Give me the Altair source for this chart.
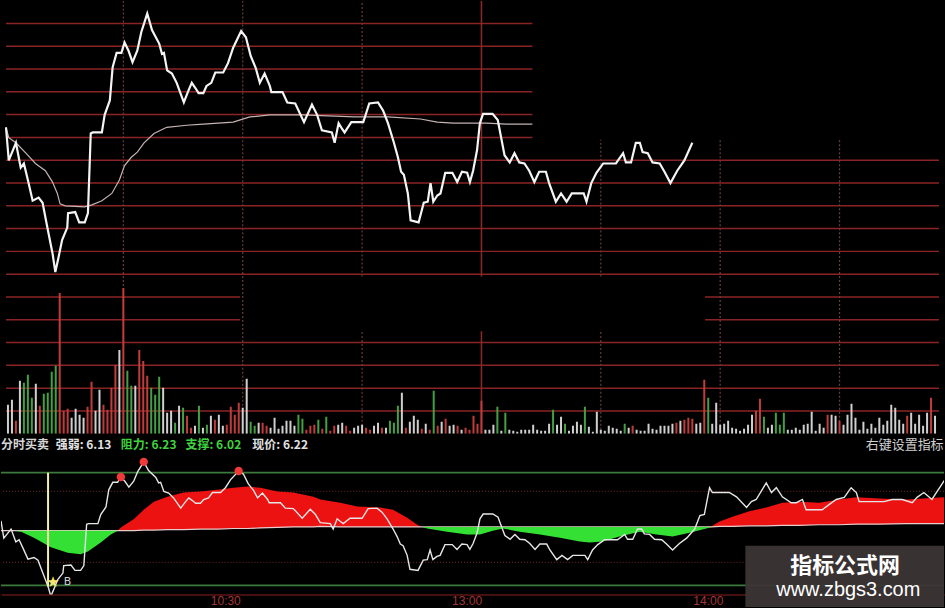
import altair as alt
import pandas as pd

# Intraday minute chart: price + average price, volume, and the
# "分时买卖" indicator underneath. Minute 1 = 09:31, minute 120 = 13:00.

X_DOMAIN = [0.5, 235.0]
TICK_MINUTES = [60, 120, 180]
TICK_LABELS = ["10:30", "13:00", "14:00"]

# ---- volume per minute (hundred lots) and tick direction (w flat, r up, g down)
volume = [
    29, 34, 13, 53, 51, 59, 36, 50, 28, 40, 41, 62, 68, 141, 23, 25, 16, 25, 19, 16,
    27, 52, 23, 44, 29, 24, 46, 69, 84, 146, 63, 48, 48, 84, 73, 58, 46, 39, 57, 46,
    21, 23, 11, 28, 26, 18, 6, 8, 28, 6, 9, 18, 14, 19, 8, 9, 27, 19, 31, 26,
    55, 12, 8, 11, 11, 8, 6, 16, 5, 8, 13, 13, 8, 19, 15, 4, 8, 9, 14,
    5, 17, 3, 8, 9, 11, 8, 3, 6, 8, 9, 6, 4, 8, 11, 6, 6, 13, 11, 28,
    41, 6, 12, 18, 14, 5, 10, 4, 43, 8, 12, 15, 8, 9, 8, 4, 6, 4, 18, 10,
    33, 4, 4, 9, 27, 3, 21, 4, 3, 2, 4, 4, 4, 9, 4, 3, 3, 10, 24, 9,
    17, 10, 3, 8, 12, 9, 27, 7, 2, 22, 4, 3, 8, 6, 5, 3, 10, 6, 8, 4,
    3, 3, 10, 5, 4, 8, 8, 8, 10, 11, 13, 14, 16, 15, 10, 11, 54, 36, 10, 31,
    9, 10, 13, 6, 5, 3, 5, 9, 19, 23, 35, 17, 6, 9, 21, 9, 21, 4, 4, 6,
    4, 9, 10, 22, 3, 10, 6, 19, 19, 18, 13, 9, 19, 30, 16, 4, 12, 5, 10, 6,
    16, 9, 13, 29, 26, 14, 10, 18, 21, 10, 19, 8, 21, 36, 18,
]
vol_dir = list(
    "wwrwgggwrg" "gggrrrwwww" "rrwwrrrrwr" "ggwrrrgggw" "wwgwgrrwgw" "gwrwwrrrrw"
    "wggwrrwwww" "wwwggrrrg"
    "rgrrwwrrww" "wrrwwrwggg" "wrwwwrwrgr" "wrwwrwrrrr"
    "rwwwgwgwww" "wwwwwwwwgw" "wgwwwwgwww" "wwwwwwgwrw" "wwwwwwwwwr" "wrrrwwrgww"
    "wwwwwwwwwr" "rgwwgggwww" "wwwwwwwrww" "rwwwwwwwww" "wwwwwwwrww" "wwwrw"
)

# ---- last price (minute, price)
price_minute = [
    0.5, 1.2, 3.0, 4.2, 5.0, 6.0, 7.2, 8.7, 9.7, 10.9,
    12.2, 12.9, 13.7, 14.6, 15.9, 16.1, 17.9, 18.9, 20.3, 21.1,
    21.8, 22.3, 24.6, 25.3, 26.6, 27.3, 28.3, 29.5, 30.3, 31.3,
    32.3, 33.5, 34.5, 36.0, 37.2, 39.0, 39.7, 40.2, 41.0, 42.2,
    43.4, 45.2, 46.4, 47.2, 48.1, 48.9, 50.1, 50.9, 52.1, 53.1,
    55.1, 56.3, 57.6, 59.6, 60.8, 62.0, 63.3, 64.3, 65.5, 66.8,
    67.2, 70.0, 71.2, 73.2, 75.4, 77.4, 78.7, 79.9, 82.4, 83.1,
    84.1, 84.9, 85.6, 87.3, 90.3, 91.8, 94.0, 95.3, 96.5, 98.0,
    99.0, 99.8, 100.5, 101.5, 102.2, 104.2, 105.5, 106.5, 107.2, 107.9,
    108.9, 109.7, 110.9, 112.7, 113.9, 115.1, 116.4, 117.1, 117.9, 118.9,
    119.6, 120.4, 122.8, 124.1, 125.1, 125.8, 127.1, 128.3, 129.5, 130.8,
    132.0, 133.3, 134.5, 136.2, 137.0, 138.7, 140.0, 141.4, 142.7, 145.7,
    146.4, 147.6, 148.9, 150.6, 153.8, 155.6, 156.3, 157.6, 158.8, 159.8,
    160.5, 161.8, 163.0, 164.8, 166.0, 167.5, 169.2, 171.0, 173.0,
    174.3, 175.4, 176.7, 177.4, 179.2, 181.6, 183.4, 185.9, 187.1, 188.3,
    190.8, 192.1, 193.3, 194.8, 197.0, 198.3, 199.8, 200.7, 204.7, 206.5,
    208.2, 210.2, 211.9, 213.2, 213.9, 220.1, 222.1, 224.6, 227.1, 228.3,
    230.0, 232.0, 233.3, 235.5,
]
price_value = [
    6.140, 6.108, 6.125, 6.101, 6.105, 6.089, 6.069, 6.072, 6.067, 6.043,
    6.018, 6.000, 6.014, 6.031, 6.043, 6.057, 6.058, 6.048, 6.048, 6.057,
    6.134, 6.135, 6.135, 6.152, 6.166, 6.198, 6.212, 6.212, 6.222, 6.214,
    6.203, 6.214, 6.232, 6.250, 6.234, 6.221, 6.211, 6.212, 6.195, 6.192,
    6.183, 6.164, 6.176, 6.183, 6.178, 6.173, 6.173, 6.180, 6.183, 6.193,
    6.193, 6.202, 6.217, 6.233, 6.227, 6.209, 6.197, 6.183, 6.192, 6.180,
    6.174, 6.174, 6.164, 6.163, 6.145, 6.162, 6.152, 6.137, 6.135, 6.125,
    6.144, 6.139, 6.135, 6.145, 6.145, 6.163, 6.164, 6.156, 6.144, 6.125,
    6.111, 6.097, 6.094, 6.076, 6.050, 6.048, 6.067, 6.068, 6.086, 6.068,
    6.074, 6.076, 6.096, 6.096, 6.087, 6.097, 6.096, 6.087, 6.098, 6.118,
    6.144, 6.153, 6.153, 6.147, 6.127, 6.113, 6.106, 6.115, 6.106, 6.105,
    6.098, 6.087, 6.097, 6.097, 6.086, 6.068, 6.076, 6.068, 6.076, 6.076,
    6.068, 6.086, 6.096, 6.105, 6.105, 6.115, 6.106, 6.106, 6.125, 6.125,
    6.116, 6.115, 6.106, 6.105, 6.097, 6.086, 6.098, 6.108, 6.125,
    6.150, 6.152, 6.202, 6.193, 6.193, 6.193, 6.185, 6.165, 6.176, 6.180,
    6.211, 6.193, 6.202, 6.185, 6.174, 6.174, 6.180, 6.161, 6.161, 6.171,
    6.180, 6.184, 6.202, 6.193, 6.176, 6.176, 6.180, 6.180, 6.174, 6.184,
    6.193, 6.180, 6.195, 6.220,
]
TOP_LAST_MINUTE = 173.0

# ---- average price
avg_minute = [
    0.5, 1.2, 3.0, 5.5, 7.9, 10.4, 12.2, 13.4, 14.1, 15.4,
    20.3, 22.1, 24.6, 27.1, 29.0, 30.3, 32.0, 33.5, 35.2, 37.7,
    40.9, 45.9, 50.1, 57.6, 61.8, 66.8, 74.9, 88.1, 96.5, 104.7,
    108.9, 112.9, 121.3, 126.3, 132.8,
]
avg_value = [
    6.140, 6.130, 6.125, 6.115, 6.105, 6.098, 6.087, 6.076, 6.066, 6.064,
    6.063, 6.065, 6.069, 6.076, 6.089, 6.103, 6.111, 6.116, 6.125, 6.134,
    6.140, 6.142, 6.143, 6.145, 6.150, 6.152, 6.152, 6.150, 6.150, 6.148,
    6.145, 6.144, 6.144, 6.143, 6.143,
]

# ---- indicator: smoothed line vs. its base line
ind_minute = [
    0.5, 3.7, 5.5, 8.7, 12.9, 17.1, 20.3, 22.1, 25.3, 27.8,
    29.5, 30.3, 33.5, 36.0, 38.5, 41.9, 45.9, 50.1, 54.3, 58.3,
    61.8, 65.0, 69.2, 73.2, 78.2, 79.9, 84.9, 89.1, 94.8, 98.0,
    101.5, 104.0, 105.2, 106.5, 111.4, 116.4, 119.6, 122.8, 125.3, 129.5,
    134.5, 139.5, 144.4, 146.9, 150.1, 154.3, 159.3, 163.5, 167.5, 171.7,
    175.9, 177.2, 179.2, 182.4, 186.6, 190.8, 194.8, 199.0, 204.0, 208.9,
    213.2, 218.9, 225.6, 235.0,
]
ind_smooth = [
    6.122, 6.122, 6.120, 6.109, 6.091, 6.081, 6.078, 6.083, 6.100, 6.115,
    6.122, 6.128, 6.143, 6.161, 6.176, 6.185, 6.193, 6.195, 6.198, 6.202,
    6.204, 6.202, 6.195, 6.193, 6.185, 6.180, 6.174, 6.167, 6.165, 6.161,
    6.146, 6.133, 6.129, 6.126, 6.120, 6.115, 6.115, 6.122, 6.126, 6.120,
    6.115, 6.109, 6.102, 6.100, 6.102, 6.111, 6.120, 6.115, 6.111, 6.118,
    6.126, 6.130, 6.139, 6.148, 6.158, 6.165, 6.174, 6.176, 6.174, 6.180,
    6.184, 6.182, 6.180, 6.184,
]
ind_base = [
    6.122, 6.122, 6.122, 6.122, 6.122, 6.122, 6.122, 6.122, 6.122, 6.122,
    6.122, 6.122, 6.122, 6.123, 6.123, 6.124, 6.124, 6.125, 6.125, 6.126,
    6.126, 6.127, 6.128, 6.129, 6.129, 6.130, 6.129, 6.129, 6.129, 6.129,
    6.129, 6.129, 6.129, 6.129, 6.129, 6.129, 6.129, 6.129, 6.129, 6.129,
    6.129, 6.129, 6.129, 6.129, 6.129, 6.129, 6.129, 6.129, 6.129, 6.129,
    6.129, 6.129, 6.130, 6.130, 6.131, 6.131, 6.132, 6.132, 6.133, 6.133,
    6.134, 6.134, 6.135, 6.135,
]

STRENGTH = 6.13
RESISTANCE = 6.23
SUPPORT = 6.02
LAST_PRICE = 6.22
GUIDE_LEVELS = [6.195, 6.063]

sell_minute = [30.3, 36.0, 59.6]
sell_price = [6.222, 6.250, 6.233]
BUY_MINUTE = 12.2
BUY_MARK_MINUTE = 13.4
BUY_MARK_PRICE = 6.026

header_minute = [0.5, 14.1, 30.3, 46.4, 63.0]
header_text = ["分时买卖", f"强弱: {STRENGTH:.2f}", f"阻力: {RESISTANCE:.2f}",
               f"支撑: {SUPPORT:.2f}", f"现价: {LAST_PRICE:.2f}"]
header_color = ["#d6d6d6", "#e2e2e2", "#3fd43f", "#3fd43f", "#e2e2e2"]
HEADER_PRICE = 6.282

# ---- background grid (levels count up from the volume baseline)
hgrid_level = [1, 2, 3, 4, 5, 5, 6, 6, 7, 8, 9, 10, 11, 12, 13, 14, 15, 16, 17, 18]
hgrid_from = [0.5, 0.5, 0.5, 0.5, 0.5, 176.2, 0.5, 176.2, 0.5, 0.5, 0.5, 0.5, 0.5, 0.5,
              0.5, 0.5, 0.5, 0.5, 0.5, 0.5]
hgrid_to = [235, 235, 235, 235, 59.3, 235, 59.3, 235, 235, 235, 235, 235, 235, 235,
            132.8, 132.8, 132.8, 132.8, 132.8, 132.8]
vgrid_minute = [30, 60, 90, 90, 150, 150, 180, 210]
vgrid_from = [0, 0, 6.9, 0, 6.9, 0, 0, 0]
vgrid_to = [19, 19, 19, 4.5, 12.9, 4.5, 12.9, 12.9]
vsolid_minute = [120, 120]
vsolid_from = [6.9, 0]
vsolid_to = [19, 4.5]

W = 945
TOP_H = 434
IND_H = 161

xs = alt.Scale(domain=X_DOMAIN, nice=False, zero=False)


def xt(field):
    return alt.X(field, type="quantitative", scale=xs, axis=None)


grid_scale = alt.Scale(domain=[0, 19], nice=False, zero=False)
top_price_scale = alt.Scale(domain=[5.8436, 6.2625], nice=False, zero=False)
vol_scale = alt.Scale(domain=[0, 434], nice=False)

hgrid_df = pd.DataFrame({"level": hgrid_level, "m0": hgrid_from, "m1": hgrid_to})
vgrid_df = pd.DataFrame({"minute": vgrid_minute, "k0": vgrid_from, "k1": vgrid_to})
vsolid_df = pd.DataFrame({"minute": vsolid_minute, "k0": vsolid_from, "k1": vsolid_to})
vol_df = pd.DataFrame({"minute": list(range(1, len(volume) + 1)), "vol": volume, "dir": vol_dir})
price_df = pd.DataFrame({"minute": price_minute, "price": price_value})
avg_df = pd.DataFrame({"minute": avg_minute, "avg": avg_value})

hgrid = alt.Chart(hgrid_df).mark_rule(color="#8a2424", strokeWidth=1.5, clip=True).encode(
    x=xt("m0"), x2="m1", y=alt.Y("level:Q", scale=grid_scale, axis=None)
)
vgrid = alt.Chart(vgrid_df).mark_rule(
    color="#6e3a3a", strokeWidth=1.2, strokeDash=[2, 2], clip=True
).encode(x=xt("minute"), y=alt.Y("k0:Q", scale=grid_scale, axis=None), y2="k1")
vsolid = alt.Chart(vsolid_df).mark_rule(color="#8e2828", strokeWidth=1.5, clip=True).encode(
    x=xt("minute"), y=alt.Y("k0:Q", scale=grid_scale, axis=None), y2="k1"
)
vol_bars = alt.Chart(vol_df).mark_bar(size=2, clip=True).encode(
    x=xt("minute"),
    y=alt.Y("vol:Q", scale=vol_scale, axis=None),
    color=alt.Color(
        "dir:N",
        scale=alt.Scale(domain=["w", "r", "g"], range=["#cfcfcf", "#c23c3c", "#43a043"]),
        legend=None,
    ),
)
avg_line = alt.Chart(avg_df).mark_line(color="#c4b3b3", strokeWidth=1.2, clip=True).encode(
    x=xt("minute"), y=alt.Y("avg:Q", scale=top_price_scale, axis=None)
)
price_line = (
    alt.Chart(price_df)
    .transform_filter(f"datum.minute <= {TOP_LAST_MINUTE}")
    .mark_line(color="#f4f4f4", strokeWidth=2.2, clip=True)
    .encode(x=xt("minute"), y=alt.Y("price:Q", scale=top_price_scale, axis=None))
)

top = (
    alt.layer(hgrid, vgrid, vsolid, vol_bars, avg_line, price_line)
    .resolve_scale(y="independent", color="independent")
    .properties(width=W, height=TOP_H)
)

# ---- indicator panel
label_expr = " : ".join(
    f"datum.value == {m} ? '{t}'" for m, t in zip(TICK_MINUTES, TICK_LABELS)
) + " : ''"
x_axis = alt.Axis(
    values=TICK_MINUTES, labelExpr=label_expr, grid=False, ticks=False, title=None,
    domainColor="#5e1616", domainWidth=1.5, labelColor="#a33636",
    labelFont="Liberation Sans", labelFontSize=12, labelAlign="right",
    labelBaseline="top", labelPadding=1, labelFlush=False, labelOverlap=False,
)


def xi(field):
    return alt.X(field, type="quantitative", scale=xs, axis=x_axis)


ind_scale = alt.Scale(domain=[6.0033, 6.3025], nice=False, zero=False)


def yi(field):
    return alt.Y(field, type="quantitative", scale=ind_scale, axis=None)


ind_df = pd.DataFrame({"minute": ind_minute, "s": ind_smooth, "b": ind_base})

green_lines = alt.Chart(pd.DataFrame({"level": [RESISTANCE, SUPPORT]})).mark_rule(
    color="#3d7b3d", strokeWidth=1.6
).encode(y=yi("level"))
guide_lines = alt.Chart(pd.DataFrame({"level": GUIDE_LEVELS})).mark_rule(
    color="#5a2222", strokeWidth=1.2, strokeDash=[1, 2]
).encode(y=yi("level"))
red_area = (
    alt.Chart(ind_df)
    .transform_calculate(top="max(datum.s, datum.b)")
    .mark_area(color="#ec1212", clip=True)
    .encode(x=xi("minute"), y=yi("top"), y2="b")
)
green_area = (
    alt.Chart(ind_df)
    .transform_calculate(bottom="min(datum.s, datum.b)")
    .mark_area(color="#35e035", clip=True)
    .encode(x=xi("minute"), y=yi("bottom"), y2="b")
)
base_line = alt.Chart(ind_df).mark_line(color="#e8cccc", strokeWidth=1.2, clip=True).encode(
    x=xi("minute"), y=yi("b")
)
ind_price = alt.Chart(price_df).mark_line(color="#e6e6e6", strokeWidth=1.4, clip=True).encode(
    x=xi("minute"), y=yi("price")
)
buy_rule = alt.Chart(
    pd.DataFrame({"minute": [BUY_MINUTE], "top": [RESISTANCE], "bot": [SUPPORT - 0.002]})
).mark_rule(color="#f4efa4", strokeWidth=2).encode(x=xi("minute"), y=yi("top"), y2="bot")
sell_marks = alt.Chart(pd.DataFrame({"minute": sell_minute, "price": sell_price})).mark_point(
    filled=True, shape="circle", size=70, color="#f03a3a", opacity=1
).encode(x=xi("minute"), y=yi("price"))
buy_star = alt.Chart(
    pd.DataFrame({"minute": [BUY_MARK_MINUTE], "price": [BUY_MARK_PRICE]})
).mark_text(text="★", font="DejaVu Sans", fontSize=15, color="#f5e46a").encode(
    x=xi("minute"), y=yi("price")
)
buy_label = alt.Chart(
    pd.DataFrame({"minute": [BUY_MARK_MINUTE + 2.7], "price": [BUY_MARK_PRICE]})
).mark_text(text="B", font="DejaVu Sans", fontSize=11, color="#d0d0d0", align="left").encode(
    x=xi("minute"), y=yi("price")
)
header = alt.Chart(
    pd.DataFrame({"minute": header_minute, "price": [HEADER_PRICE] * len(header_minute),
                  "label": header_text, "color": header_color})
).mark_text(
    align="left", baseline="middle", font="Noto Sans CJK SC", fontSize=12,
    fontWeight="bold"
).encode(x=xi("minute"), y=yi("price"), text="label:N", color=alt.Color("color:N", scale=None))
hint = alt.Chart(
    pd.DataFrame({"minute": [234.9], "price": [HEADER_PRICE], "label": ["右键设置指标"]})
).mark_text(
    align="right", baseline="middle", font="Noto Sans CJK SC", fontSize=13,
    color="#cfcfcf"
).encode(x=xi("minute"), y=yi("price"), text="label:N")

# site badge in the lower right corner
badge = alt.Chart(
    pd.DataFrame({"m0": [185.6], "m1": [235.0], "p0": [6.094], "p1": [5.98]})
).mark_rect(color="#3b3535", opacity=0.95).encode(x=xi("m0"), x2="m1", y=yi("p0"), y2="p1")
badge_title = alt.Chart(
    pd.DataFrame({"minute": [210.4], "price": [6.057], "label": ["指标公式网"]})
).mark_text(
    font="Noto Sans CJK SC", fontSize=22, fontWeight="bold", color="#ffffff"
).encode(x=xi("minute"), y=yi("price"), text="label:N")
badge_url = alt.Chart(
    pd.DataFrame({"minute": [211.2], "price": [6.011], "label": ["www.zbgs3.com"]})
).mark_text(font="Liberation Sans", fontSize=20, color="#ffffff").encode(
    x=xi("minute"), y=yi("price"), text="label:N"
)

indicator = alt.layer(
    guide_lines, green_lines, red_area, base_line, green_area, ind_price, buy_rule,
    sell_marks, buy_star, buy_label, header, hint, badge, badge_title, badge_url,
).properties(width=W, height=IND_H)

chart = (
    alt.vconcat(top, indicator, spacing=0, bounds="flush")
    .resolve_scale(x="independent", y="independent", color="independent")
    .properties(background="#000000", padding=0)
    .configure_view(stroke=None)
)

chart.save("out.html", embed_options={"renderer": "svg", "actions": False})
